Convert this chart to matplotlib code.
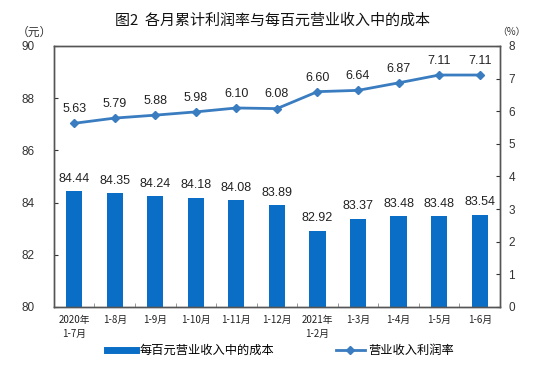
import matplotlib
matplotlib.use("Agg")
import matplotlib.pyplot as plt
from matplotlib.lines import Line2D
import numpy as np

plt.rcParams['font.family'] = ['Noto Sans CJK SC', 'DejaVu Sans']

categories = ["2020年\n1-7月", "1-8月", "1-9月", "1-10月", "1-11月", "1-12月",
              "2021年\n1-2月", "1-3月", "1-4月", "1-5月", "1-6月"]
cost = [84.44, 84.35, 84.24, 84.18, 84.08, 83.89, 82.92, 83.37, 83.48, 83.48, 83.54]
rate = [5.63, 5.79, 5.88, 5.98, 6.10, 6.08, 6.60, 6.64, 6.87, 7.11, 7.11]

bar_color = "#0A6EC6"
line_color = "#3A7CC0"

fig = plt.figure(figsize=(5.5, 3.65), dpi=100)
ax = fig.add_axes([0.098, 0.159, 0.811, 0.715])
ax2 = ax.twinx()

x = np.arange(len(categories))
ax.bar(x, cost, width=0.4, color=bar_color, zorder=2)
ax.set_ylim(80, 90)
ax.set_xlim(-0.5, len(categories) - 0.5)
ax.set_yticks([80, 82, 84, 86, 88, 90])
ax.set_xticks(x)
ax.set_xticklabels(categories, fontsize=7, color="#222222", linespacing=1.4)
ax.set_xticks(np.arange(-0.5, len(categories), 1), minor=True)
ax.tick_params(axis='x', which='major', length=0, pad=6)
ax.tick_params(axis='x', which='minor', direction='in', length=3, color="#888888")
ax.tick_params(axis='y', direction='in', length=3, labelsize=8.5, colors="#333333", pad=14)
for lab in ax.get_yticklabels():
    lab.set_family(['Liberation Sans', 'DejaVu Sans'])

for xi, v in zip(x, cost):
    ax.text(xi, v + 0.25, f"{v:.2f}", ha='center', va='bottom', fontsize=9,
            color="#222222", family=['Liberation Sans', 'DejaVu Sans'])

ax2.plot(x, rate, color=line_color, lw=2, marker='D', markersize=4, zorder=3)
ax2.set_ylim(0, 8)
ax2.set_yticks(range(0, 9))
ax2.tick_params(axis='y', direction='in', length=3, labelsize=8.5, colors="#333333", pad=6)
for lab in ax2.get_yticklabels():
    lab.set_family(['Liberation Sans', 'DejaVu Sans'])
for xi, v in zip(x, rate):
    ax2.text(xi, v + 0.25, f"{v:.2f}", ha='center', va='bottom', fontsize=9,
             color="#222222", family=['Liberation Sans', 'DejaVu Sans'])

for a in (ax, ax2):
    for s in a.spines.values():
        s.set_color("#555555")
        s.set_linewidth(1.0)

fig.text(0.495, 0.945, "图2  各月累计利润率与每百元营业收入中的成本", ha='center', va='center',
         fontsize=10.8, color="#111111")
fig.text(0.062, 0.912, "（元）", ha='center', va='center', fontsize=8.5, color="#333333")
fig.text(0.93, 0.912, "（%）", ha='center', va='center', fontsize=7, color="#333333")

handles = [Line2D([0], [0], color=bar_color, lw=5),
           Line2D([0], [0], color=line_color, lw=2, marker='D', markersize=4)]
fig.legend(handles, ["每百元营业收入中的成本", "营业收入利润率"], loc='center',
           bbox_to_anchor=(0.51, 0.04), ncol=2, frameon=False, fontsize=8.8,
           handlelength=2.4, columnspacing=5, handletextpad=0.3)

fig.savefig("out.png", dpi=100)
